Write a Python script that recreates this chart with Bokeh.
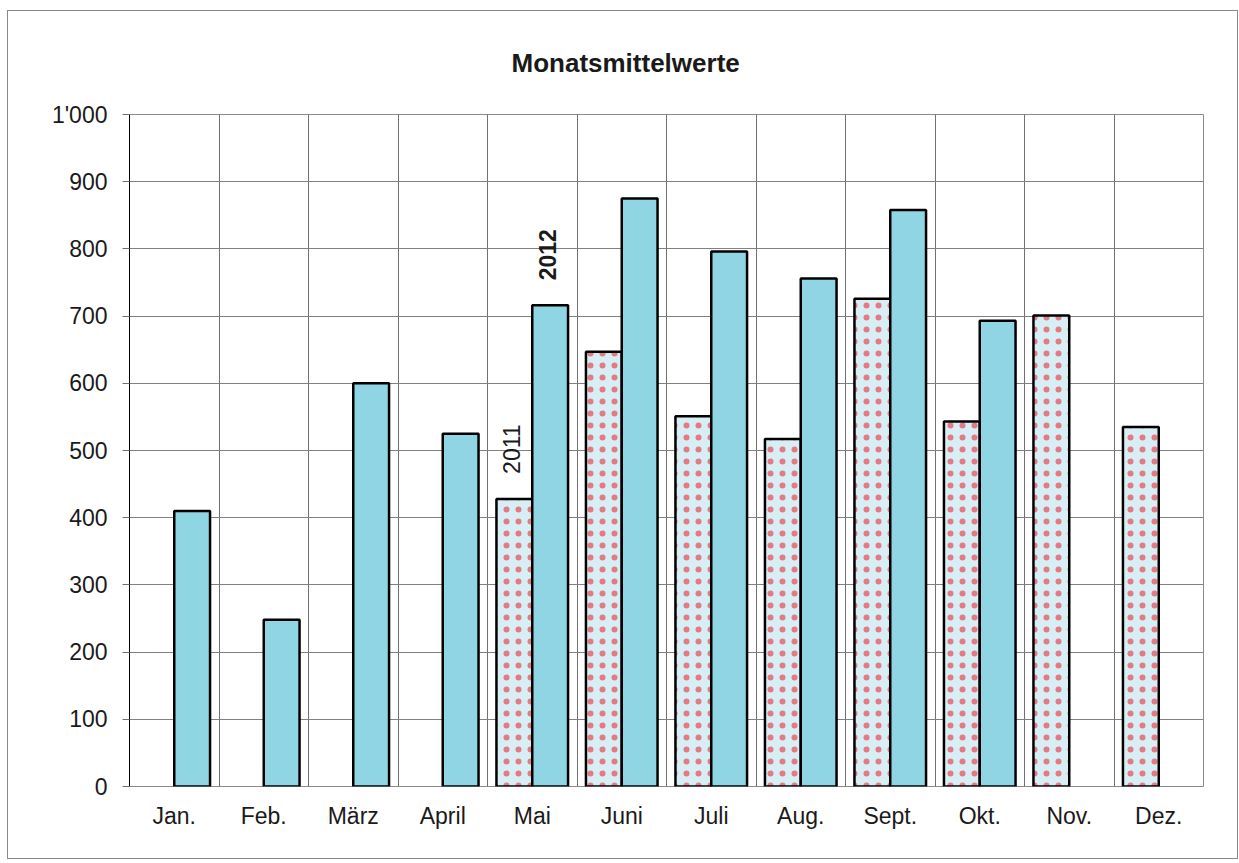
import math
from bokeh.plotting import figure
from bokeh.models import ColumnDataSource, FixedTicker, Range1d, Title
from bokeh.core.properties import value
from bokeh.embed import file_html
from bokeh.resources import INLINE

months = ["Jan.", "Feb.", "März", "April", "Mai", "Juni", "Juli", "Aug.",
          "Sept.", "Okt.", "Nov.", "Dez."]
values_2011 = [None, None, None, None, 428, 647, 551, 517, 726, 543, 701, 535]
values_2012 = [410, 248, 600, 525, 716, 875, 796, 756, 858, 693, None, None]
y_ticks = [0, 100, 200, 300, 400, 500, 600, 700, 800, 900, 1000]
y_tick_labels = ["0", "100", "200", "300", "400", "500", "600", "700", "800", "900", "1'000"]
annot_month = "Mai"
annot_years = ["2011", "2012"]
title_text = "Monatsmittelwerte"

FONT = "Liberation Sans"
BAR_W = 0.4

centers = [i + 0.5 for i in range(len(months))]

src11 = ColumnDataSource(dict(
    x=[c - BAR_W / 2 for c, v in zip(centers, values_2011) if v is not None],
    top=[v for v in values_2011 if v is not None]))
src12 = ColumnDataSource(dict(
    x=[c + BAR_W / 2 for c, v in zip(centers, values_2012) if v is not None],
    top=[v for v in values_2012 if v is not None]))

p = figure(frame_width=1074, frame_height=672,
           min_border_left=121, min_border_top=103,
           min_border_right=34, min_border_bottom=72,
           x_range=Range1d(0, 12), y_range=Range1d(0, 1000),
           output_backend="svg", toolbar_location=None,
           background_fill_color="white", border_fill_color="white")
p.styles = {"border": "1px solid #888888", "margin-left": "7px", "margin-top": "10px"}

p.title = Title(text=title_text, align="left", offset=382, standoff=70,
                vertical_align="top",
                text_font=FONT, text_font_size="26px", text_font_style="bold",
                text_color="#1a1a1a")

p.outline_line_color = "#8a8a8a"
p.outline_line_width = 1

# grids
p.xgrid.ticker = FixedTicker(ticks=list(range(len(months) + 1)))
p.xgrid.grid_line_color = "#707070"
p.xgrid.grid_line_width = 1
p.ygrid.ticker = FixedTicker(ticks=y_ticks)
p.ygrid.grid_line_color = "#808080"
p.ygrid.grid_line_width = 1

# x axis
p.xaxis.ticker = FixedTicker(ticks=centers)
p.xaxis.major_label_overrides = {c: m for c, m in zip(centers, months)}
p.xaxis.axis_line_color = None
p.xaxis.major_tick_line_color = None
p.xaxis.minor_tick_line_color = None
p.xaxis.major_label_standoff = 10
p.xaxis.major_label_text_font = FONT
p.xaxis.major_label_text_font_size = "23px"
p.xaxis.major_label_text_color = "#1a1a1a"

# y axis
p.yaxis.ticker = FixedTicker(ticks=y_ticks)
p.yaxis.major_label_overrides = {t: l for t, l in zip(y_ticks, y_tick_labels)}
p.yaxis.axis_line_color = "black"
p.yaxis.axis_line_width = 1
p.yaxis.major_tick_out = 7
p.yaxis.major_tick_in = 0
p.yaxis.major_tick_line_color = "#707070"
p.yaxis.minor_tick_line_color = None
p.yaxis.major_label_standoff = 15
p.yaxis.major_label_text_font = FONT
p.yaxis.major_label_text_font_size = "23px"
p.yaxis.major_label_text_color = "#1a1a1a"

# bars
p.vbar(x="x", top="top", bottom=0, width=BAR_W, source=src11,
       fill_color="#d6eef4", line_color="black", line_width=2.5,
       hatch_pattern="dot", hatch_color="#e47a86", hatch_scale=12,
       hatch_weight=0.6)
p.vbar(x="x", top="top", bottom=0, width=BAR_W, source=src12,
       fill_color="#8fd5e3", line_color="black", line_width=2.5)

# year annotations above the May bars
mi = months.index(annot_month)
p.text(x=[centers[mi] - BAR_W / 2], y=[values_2011[mi]], text=[annot_years[0]],
       angle=math.pi / 2, text_align="left", text_baseline="middle",
       x_offset=-3, y_offset=-25,
       text_font=value(FONT), text_font_size="23px", text_color="#1a1a1a")
p.text(x=[centers[mi] + BAR_W / 2], y=[values_2012[mi]], text=[annot_years[1]],
       angle=math.pi / 2, text_align="left", text_baseline="middle",
       x_offset=-3, y_offset=-25,
       text_font=value(FONT), text_font_size="23px", text_font_style="bold",
       text_color="#1a1a1a")

open("out.html", "w").write(file_html(p, INLINE))
